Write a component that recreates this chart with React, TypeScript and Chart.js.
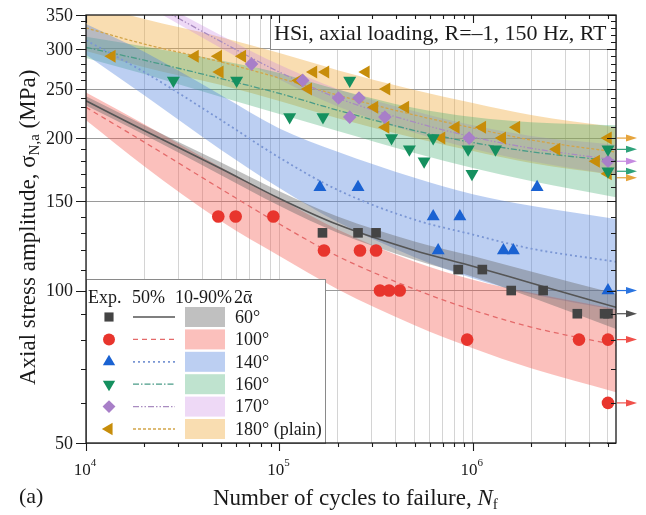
import React, { useEffect, useRef } from 'react';
import { Chart, registerables } from 'chart.js';

Chart.register(...registerables);

// ---------------- data ----------------
const bandN = [1e4, 2e4, 5e4, 1e5, 2e5, 5e5, 1e6, 2e6, 5.5e6];

const mean60 = [237, 207, 174, 152, 135, 120, 111.7, 103.5, 92.7];
const lo60 = [232, 203, 169, 147, 130, 115, 106.5, 97, 84];
const hi60 = [242, 212, 179, 157, 140, 125, 117, 109, 98.5];

const mean100 = [230, 196.4, 158.6, 135.3, 116.9, 100.6, 91.5, 84.7, 78];
const lo100 = [217, 176, 137, 117, 100.6, 85.4, 76.9, 70.2, 63];
const hi100 = [246, 213, 175, 152, 132, 114, 105, 99, 92];

const mean140 = [312, 270, 217, 183, 158, 138, 129, 121, 114];
const lo140 = [292, 243, 189.5, 159.4, 136.5, 116.4, 105.8, 98.4, 91.5];
const hi140 = [336, 296, 243, 209, 188, 167, 155, 147, 138.4];

const mean160 = [302, 285, 262, 245, 227, 207, 196, 188, 180];
const lo160 = [288, 267.7, 241.1, 223.1, 206.5, 186.8, 174.5, 164.5, 152.9];
const hi160 = [317, 303.4, 284.7, 269, 249.5, 229.4, 220.1, 214.9, 211.9];

const mean170 = [436, 376, 310, 270, 240, 215, 201, 191, 181];
const lo170 = [425, 367, 301, 261, 231, 205, 190.5, 180, 169];
const hi170 = [447, 385, 319, 279, 250, 226, 212, 202, 194];

const mean180 = [330, 306.7, 282.6, 262.8, 243.2, 222.1, 209.4, 198.3, 187.7];
const lo180 = [297, 276, 254.5, 236.8, 219, 200, 188.6, 178.6, 169];
const hi180 = [370, 343.5, 316.5, 294.3, 272.4, 248.8, 234.5, 222.1, 210.2];

const n60 = [1.67e5, 2.55e5, 3.16e5, 8.4e5, 1.12e6, 1.58e6, 2.31e6, 3.47e6, 4.8e6, 5.0e6];
const s60 = [130, 130, 130, 110, 110, 100, 100, 90, 90, 90];

const n100 = [4.83e4, 5.94e4, 9.3e4, 1.7e5, 2.61e5, 3.16e5, 3.31e5, 3.69e5, 4.19e5, 9.35e5, 3.54e6, 5.0e6, 5.0e6];
const s100 = [140, 140, 140, 120, 120, 120, 100, 100, 100, 80, 80, 80, 60];

const n140 = [1.62e5, 2.55e5, 6.24e5, 8.57e5, 6.62e5, 1.44e6, 1.62e6, 2.15e6, 5.0e6];
const s140 = [160, 160, 140, 140, 120, 120, 120, 160, 100];

const n160 = [2.83e4, 6.01e4, 1.13e5, 1.68e5, 2.31e5, 3.8e5, 4.7e5, 5.6e5, 6.24e5, 9.46e5, 9.9e5, 1.31e6, 5.0e6, 5.0e6];
const s160 = [260, 260, 220, 220, 260, 200, 190, 180, 200, 190, 170, 190, 190, 172];

const n170 = [7.18e4, 1.32e5, 2.02e5, 2.58e5, 2.31e5, 3.51e5, 9.57e5, 5.0e6];
const s170 = [280, 260, 240, 240, 220, 220, 200, 180];

const n180 = [1.36e4, 3.66e4, 4.83e4, 6.43e4, 4.92e4, 1.26e5, 1.41e5, 1.5e5, 1.73e5, 2.8e5, 3.58e5, 3.1e5, 4.48e5, 3.54e5, 8.17e5, 1.12e6, 1.68e6, 6.89e5, 1.42e6, 2.71e6, 4.34e6, 5.0e6, 5.0e6];
const s180 = [290, 290, 290, 290, 270, 260, 250, 270, 270, 270, 250, 230, 230, 210, 210, 210, 210, 200, 200, 190, 180, 200, 170];

const runout60 = [90];
const runout100 = [80, 60];
const runout140 = [100];
const runout160 = [190, 172];
const runout170 = [180];
const runout180 = [200, 167];

const xLabelTicks = [1e4, 1e5, 1e6];
const xTickVals: number[] = [];
for (let e = 4; e <= 6; e++) for (let m = 1; m <= 9; m++) { const v = m * Math.pow(10, e); if (v <= 5.5e6) xTickVals.push(v); }
const yTickVals: number[] = [];
for (let v = 50; v <= 350; v += 10) yTickVals.push(v);
const yLabelTicks = [50, 100, 150, 200, 250, 300, 350];
const yGridLines = [100, 150, 200, 250, 300];

const legendLabels = ['60°', '100°', '140°', '160°', '170°', '180° (plain)'];
const legendHeader = ['Exp.', '50%', '10-90%', '2\u1FB1'];
const titleText = 'HSi, axial loading, R=\u20131, 150 Hz, RT';

// ---------------- styles ----------------
const SERIF = '"Liberation Serif", "DejaVu Serif", "Times New Roman", serif';

const SERIES = [
  { n: n60, s: s60, mean: mean60, lo: lo60, hi: hi60, runout: runout60, shape: 'square', mColor: '#444444', r: 6.8,
    lColor: '#555555', dash: [] as number[], lw: 1.6, band: 'rgba(105,105,105,0.42)', arrow: '#505050' },
  { n: n100, s: s100, mean: mean100, lo: lo100, hi: hi100, runout: runout100, shape: 'circle', mColor: '#e8352d', r: 6.3,
    lColor: '#e46a6a', dash: [5, 4], lw: 1.3, band: 'rgba(245,90,80,0.38)', arrow: '#f0504a' },
  { n: n140, s: s140, mean: mean140, lo: lo140, hi: hi140, runout: runout140, shape: 'up', mColor: '#1a62d2', r: 7.5,
    lColor: '#7a96d4', dash: [2, 3], lw: 1.8, band: 'rgba(80,130,220,0.38)', arrow: '#2a74e0' },
  { n: n160, s: s160, mean: mean160, lo: lo160, hi: hi160, runout: runout160, shape: 'down', mColor: '#15905f', r: 7.5,
    lColor: '#4a9c88', dash: [6, 2, 1.5, 2], lw: 1.3, band: 'rgba(60,170,110,0.33)', arrow: '#2ea27a' },
  { n: n170, s: s170, mean: mean170, lo: lo170, hi: hi170, runout: runout170, shape: 'diamond', mColor: '#a87fc8', r: 6.8,
    lColor: '#a98cc0', dash: [6, 2, 1.5, 2, 1.5, 2], lw: 1.3, band: 'rgba(200,130,225,0.30)', arrow: '#c58ae0' },
  { n: n180, s: s180, mean: mean180, lo: lo180, hi: hi180, runout: runout180, shape: 'left', mColor: '#c78d0a', r: 7.5,
    lColor: '#d2a54a', dash: [3, 2], lw: 1.3, band: 'rgba(240,170,60,0.40)', arrow: '#e6a43c' },
];

function pointStyleOf(shape: string): { style: any; rot: number } {
  switch (shape) {
    case 'square': return { style: 'rect', rot: 0 };
    case 'circle': return { style: 'circle', rot: 0 };
    case 'up': return { style: 'triangle', rot: 0 };
    case 'down': return { style: 'triangle', rot: 180 };
    case 'diamond': return { style: 'rectRot', rot: 0 };
    default: return { style: 'triangle', rot: 270 };
  }
}

function markerPath(ctx: CanvasRenderingContext2D, shape: string, x: number, y: number, r: number) {
  ctx.beginPath();
  if (shape === 'square') {
    const s = r * Math.SQRT1_2;
    ctx.rect(x - s, y - s, 2 * s, 2 * s);
  } else if (shape === 'circle') {
    ctx.arc(x, y, r, 0, Math.PI * 2);
  } else if (shape === 'diamond') {
    ctx.moveTo(x, y - r); ctx.lineTo(x + r, y); ctx.lineTo(x, y + r); ctx.lineTo(x - r, y); ctx.closePath();
  } else {
    let a = shape === 'up' ? 0 : shape === 'down' ? Math.PI : -Math.PI / 2;
    for (let i = 0; i < 3; i++) {
      const px = x + Math.sin(a) * r, py = y - Math.cos(a) * r;
      if (i === 0) ctx.moveTo(px, py); else ctx.lineTo(px, py);
      a += (2 * Math.PI) / 3;
    }
    ctx.closePath();
  }
}

function drawParts(ctx: CanvasRenderingContext2D, parts: [string, string, number][], x0: number, y0: number) {
  let x = x0;
  ctx.textAlign = 'left';
  ctx.textBaseline = 'alphabetic';
  for (const [t, f, dy] of parts) {
    ctx.font = f;
    ctx.fillText(t, x, y0 + dy);
    x += ctx.measureText(t).width;
  }
}

const decorPlugin = {
  id: 'decor',
  afterDraw(chart: any) {
    const ctx: CanvasRenderingContext2D = chart.ctx;
    const { left, right, top, bottom } = chart.chartArea;
    const xs = chart.scales.x, ys = chart.scales.y;
    ctx.save();

    // run-out arrows
    SERIES.forEach((sr) => sr.runout.forEach((v) => {
      const y = ys.getPixelForValue(v);
      ctx.strokeStyle = sr.arrow; ctx.fillStyle = sr.arrow; ctx.lineWidth = 1.2;
      ctx.beginPath(); ctx.moveTo(right + 1, y); ctx.lineTo(right + 12, y); ctx.stroke();
      ctx.beginPath(); ctx.moveTo(right + 10, y - 3.5); ctx.lineTo(right + 21, y); ctx.lineTo(right + 10, y + 3.5); ctx.closePath(); ctx.fill();
    }));

    // title box
    ctx.fillStyle = '#ffffff';
    ctx.fillRect(270, top, right - 270, 34);
    ctx.strokeStyle = '#8a8a8a'; ctx.lineWidth = 1;
    ctx.strokeRect(270.5, top + 0.5, right - 270, 34);
    ctx.fillStyle = '#1a1a1a';
    ctx.font = `22px ${SERIF}`;
    ctx.textAlign = 'left'; ctx.textBaseline = 'alphabetic';
    ctx.fillText(titleText, 274, 40);

    // legend box
    const lx0 = left, ly0 = 279, lx1 = 325;
    ctx.fillStyle = '#ffffff';
    ctx.fillRect(lx0, ly0, lx1 - lx0, bottom - ly0);
    ctx.strokeStyle = '#8a8a8a'; ctx.lineWidth = 1;
    ctx.strokeRect(lx0 + 0.5, ly0 + 0.5, lx1 - lx0, bottom - ly0);
    ctx.fillStyle = '#1a1a1a';
    ctx.font = `18px ${SERIF}`;
    ctx.textBaseline = 'middle';
    const hx = [88, 132, 175, 234];
    legendHeader.forEach((t, i) => ctx.fillText(t, hx[i], 298));
    SERIES.forEach((sr, i) => {
      const y = 317 + i * 22.4;
      ctx.fillStyle = sr.mColor;
      markerPath(ctx, sr.shape, 109, y, sr.r * 0.95);
      ctx.fill();
      ctx.save();
      ctx.strokeStyle = sr.lColor; ctx.lineWidth = sr.lw; ctx.setLineDash(sr.dash);
      ctx.beginPath(); ctx.moveTo(133, y); ctx.lineTo(175, y); ctx.stroke();
      ctx.restore();
      ctx.fillStyle = sr.band;
      ctx.fillRect(185, y - 10, 40, 20);
      ctx.fillStyle = '#1a1a1a';
      ctx.font = `18px ${SERIF}`;
      ctx.textBaseline = 'middle';
      ctx.fillText(legendLabels[i], 235, y + 1);
    });

    // frame
    ctx.strokeStyle = '#1a1a1a'; ctx.lineWidth = 1.3;
    ctx.strokeRect(left, top, right - left, bottom - top);

    // ticks
    ctx.lineWidth = 1.1;
    ctx.beginPath();
    xTickVals.forEach((v) => {
      const x = Math.round(xs.getPixelForValue(v)) + 0.5;
      const major = xLabelTicks.includes(v);
      const L = major ? 8 : 4;
      ctx.moveTo(x, bottom); ctx.lineTo(x, bottom + L);
      ctx.moveTo(x, top); ctx.lineTo(x, top + L);
    });
    yTickVals.forEach((v) => {
      const y = Math.round(ys.getPixelForValue(v)) + 0.5;
      const major = v % 50 === 0;
      ctx.moveTo(left, y); ctx.lineTo(left - (major ? 10 : 5), y);
      ctx.moveTo(right, y); ctx.lineTo(right - (major ? 9 : 5), y);
    });
    ctx.stroke();

    // tick labels
    ctx.fillStyle = '#1a1a1a';
    ctx.font = `18px ${SERIF}`;
    ctx.textAlign = 'right'; ctx.textBaseline = 'middle';
    yLabelTicks.forEach((v) => ctx.fillText(String(v), 73, ys.getPixelForValue(v) + 1));
    xLabelTicks.forEach((v) => {
      const x = xs.getPixelForValue(v);
      const exp = String(Math.round(Math.log10(v)));
      ctx.font = `17px ${SERIF}`;
      const w1 = ctx.measureText('10').width;
      ctx.font = `11px ${SERIF}`;
      const w2 = ctx.measureText(exp).width;
      const x0 = x - (w1 + w2) / 2 - 1;
      ctx.textAlign = 'left'; ctx.textBaseline = 'alphabetic';
      ctx.font = `17px ${SERIF}`;
      ctx.fillText('10', x0, 475);
      ctx.font = `11px ${SERIF}`;
      ctx.fillText(exp, x0 + w1, 466);
    });

    // axis titles
    ctx.fillStyle = '#1a1a1a';
    drawParts(ctx, [
      ['Number of cycles to failure, ', `23px ${SERIF}`, 0],
      ['N', `italic 23px ${SERIF}`, 0],
      ['f', `15px ${SERIF}`, 4],
    ], 213, 505);
    ctx.textAlign = 'left'; ctx.textBaseline = 'alphabetic';
    ctx.font = `22px ${SERIF}`;
    ctx.fillText('(a)', 19, 503);

    ctx.save();
    ctx.translate(35, 385);
    ctx.rotate(-Math.PI / 2);
    drawParts(ctx, [
      ['Axial stress amplitude, \u03C3', `23px ${SERIF}`, 0],
      ['N,a', `15px ${SERIF}`, 4],
      [' (MPa)', `23px ${SERIF}`, 0],
    ], 0, 0);
    ctx.restore();

    ctx.restore();
  },
};

export default function App() {
  const ref = useRef<HTMLCanvasElement | null>(null);
  useEffect(() => {
    if (!ref.current) return;
    const datasets: any[] = [];
    SERIES.forEach((sr) => {
      datasets.push({
        data: bandN.map((n, i) => ({ x: n, y: sr.hi[i] })),
        borderWidth: 0, pointRadius: 0, fill: '+1', backgroundColor: sr.band,
        cubicInterpolationMode: 'monotone', order: 3,
      });
      datasets.push({
        data: bandN.map((n, i) => ({ x: n, y: sr.lo[i] })),
        borderWidth: 0, pointRadius: 0, fill: false, backgroundColor: 'rgba(0,0,0,0)',
        cubicInterpolationMode: 'monotone', order: 3,
      });
    });
    SERIES.forEach((sr) => {
      datasets.push({
        data: bandN.map((n, i) => ({ x: n, y: sr.mean[i] })),
        borderColor: sr.lColor, borderWidth: sr.lw, borderDash: sr.dash, pointRadius: 0, fill: false,
        cubicInterpolationMode: 'monotone', order: 2,
      });
    });
    SERIES.forEach((sr) => {
      const ps = pointStyleOf(sr.shape);
      datasets.push({
        data: sr.n.map((n, i) => ({ x: n, y: sr.s[i] })),
        showLine: false, pointStyle: ps.style, pointRotation: ps.rot, pointRadius: sr.r,
        pointBackgroundColor: sr.mColor, pointBorderColor: sr.mColor, pointBorderWidth: 0,
        borderWidth: 0, fill: false, order: 1,
      });
    });

    const chart = new Chart(ref.current, {
      type: 'line',
      data: { datasets },
      plugins: [decorPlugin],
      options: {
        animation: false,
        responsive: false,
        events: [],
        layout: { padding: { top: 15, right: 30, left: 0, bottom: 0 } },
        plugins: { legend: { display: false }, tooltip: { enabled: false } },
        scales: {
          x: {
            type: 'logarithmic', min: 1e4, max: 5.5e6,
            afterFit: (s: any) => { s.height = 72; },
            afterBuildTicks: (s: any) => { s.ticks = xTickVals.map((v) => ({ value: v })); },
            ticks: { display: false },
            grid: { color: '#d4d4d4', lineWidth: 1, drawTicks: false },
            border: { display: false },
          },
          y: {
            type: 'logarithmic', min: 50, max: 350,
            afterFit: (s: any) => { s.width = 86; },
            afterBuildTicks: (s: any) => { s.ticks = yTickVals.map((v) => ({ value: v })); },
            ticks: { display: false },
            grid: {
              color: (c: any) => (c.tick && yGridLines.includes(c.tick.value) ? '#9a9a9a' : 'rgba(0,0,0,0)'),
              lineWidth: 1, drawTicks: false,
            },
            border: { display: false },
          },
        },
      } as any,
    });
    return () => chart.destroy();
  }, []);
  return (
    <div style={{ position: 'absolute', left: 0, top: 0, width: 646, height: 515, background: '#fff' }}>
      <canvas ref={ref} width={646} height={515} />
    </div>
  );
}
